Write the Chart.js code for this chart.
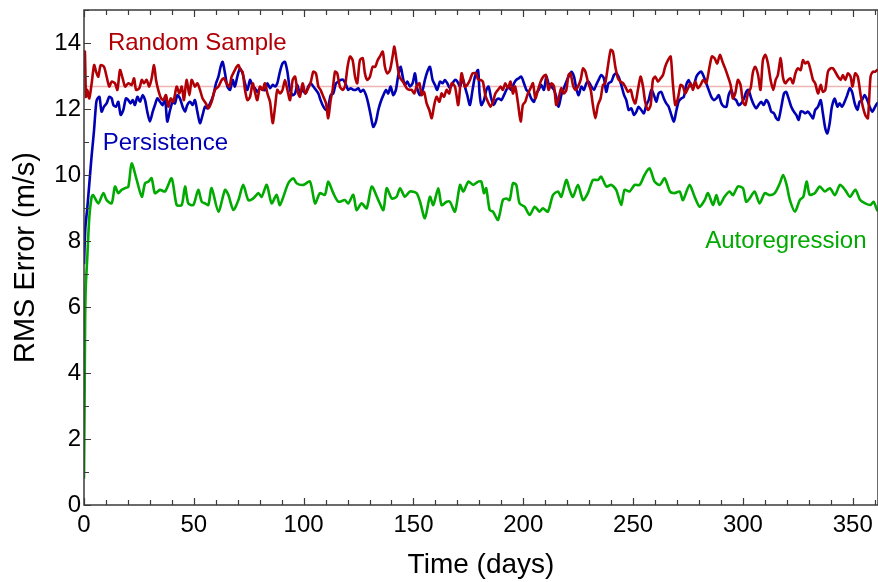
<!DOCTYPE html>
<html>
<head>
<meta charset="utf-8">
<script src="https://cdn.jsdelivr.net/npm/chart.js@4.4.1/dist/chart.umd.min.js"></script>
<style>
  html, body { margin: 0; padding: 0; background: #fff; }
  canvas { display: block; }
</style>
</head>
<body>
<canvas id="rms" width="878" height="582"></canvas>
<script>
// values (days, m/s)
const rsDays = [0,0.4,0.9,1.5,2.4,3.5,4.6,5.5,6.5,7.6,9.1,10.3,11.5,12.6,14.1,15.2,16.4,17.6,18.7,20.2,21.7,22.8,23.7,25.2,26.3,27.3,28.5,29.7,30.8,31.9,32.8,33.8,35.1,36.1,37.3,38.4,39.5,40.7,42.2,43.4,44.5,45.5,46.7,48,49,50.5,51.6,52.8,54,55.5,56.6,58.1,59.6,61.2,62.7,63.7,64.9,66.2,67.2,68.3,69.5,70.3,71.3,72.2,73.3,74.4,75.6,76.8,77.8,78.9,80.1,81.3,82.4,83.5,84.7,85.9,87,88,89.2,90.4,91.5,92.6,93.8,95,96.1,97.1,98.3,99.5,100.8,102.1,103.3,104.4,105.6,106.7,107.7,109,110.2,111.2,112.3,113.2,114.3,115.3,116.5,117.8,118.8,120,121.1,122.3,123.4,124.4,125.6,126.9,127.9,129,130.2,131.4,132.6,133.7,134.7,136,137,138.1,139.3,140.5,141.3,142.3,143.6,144.6,145.7,146.9,148.1,149.2,150.4,151.4,152.7,153.7,154.8,156,157.2,158.3,159.3,160.5,161.8,162.8,163.9,165.1,166.3,167.4,168.9,170.4,171.9,173.4,174.5,175.7,176.9,178.5,179.4,180.6,181.6,182.7,183.9,185.1,186.2,187.3,188.5,189.7,190.7,191.8,193,194.2,195.3,196.3,197.6,198.8,199.8,200.9,202.1,203.3,204.4,205.5,206.7,207.9,209.1,210.3,211.5,212.8,214,215,216.1,217.3,218.5,219.6,220.6,221.5,222.6,223.7,224.9,226.1,227.2,228.3,229.4,230.7,231.7,232.8,234,235.2,236.3,237.3,238.5,239.8,240.8,241.9,243.1,244.3,245.4,246.4,247.7,248.9,249.9,251,252.2,253.4,254.5,255.5,256.8,258,259,260.1,261.3,262.5,263.6,264.6,265.9,267.1,268.1,269.2,270.4,271.6,272.7,273.8,275,276.2,277.3,278.3,279.5,280.7,281.9,283.3,284.8,285.9,287.1,288.3,289.5,290.7,291.9,293.2,294.4,295.4,296.5,297.7,298.9,300,301.1,302.3,303.5,304.6,305.6,306.9,308,309.1,310.2,311.4,312.6,313.8,314.9,315.9,317.2,318.2,319.3,320.5,321.7,322.8,323.9,325,326.3,327.3,328.4,329.6,330.8,331.9,332.9,334.2,335.4,336.4,337.5,338.7,339.9,341,342,343.3,344.5,345.5,346.6,347.8,349,349.9,351.1,352.3,353.6,354.6,355.7,356.9,358.1,359.2,360.2,361.1,362];
const rsVals = [13.2,13.74,12.37,12.58,12.32,12.78,13.33,13.13,12.98,13.33,13.28,12.98,12.68,12.83,12.78,12.58,13.18,12.93,12.68,12.78,12.73,12.93,12.58,12.63,12.88,12.78,12.88,12.68,12.93,13.33,12.88,12.58,12.32,12.27,12.42,12.07,12.32,12.22,12.68,12.47,12.68,12.27,12.88,12.42,12.88,12.68,12.78,12.58,12.32,12.17,12.02,12.22,12.58,12.68,12.88,12.93,12.78,12.68,12.98,13.13,13.28,13.33,13.18,13.13,12.58,12.27,12.37,12.78,12.52,12.27,12.68,12.58,12.78,12.47,12.22,11.57,12.07,12.58,12.47,12.58,12.88,12.58,12.27,12.88,12.98,12.58,12.37,12.78,12.47,12.63,12.83,13.13,13.08,12.68,12.58,12.37,12.17,11.72,12.27,12.58,13.13,13.08,12.68,12.58,12.68,13.28,13.59,13.48,12.98,12.78,13.48,13.54,13.08,12.88,12.98,13.28,13.28,13.48,13.59,13.74,13.28,13.08,13.18,13.59,13.89,13.48,12.98,12.88,12.78,12.63,12.58,12.58,12.47,12.68,12.78,12.42,12.52,12.17,11.97,11.72,12.07,12.37,12.22,12.47,12.37,12.58,12.47,12.78,12.68,12.12,13.08,12.68,12.73,12.88,13.08,13.08,12.9,12.88,12.83,12.42,12.22,12.07,12.22,12.47,12.58,12.68,12.58,12.78,12.63,12.83,12.47,12.68,12.17,11.62,12.12,12.22,12.47,12.63,12.78,12.32,12.58,12.83,12.98,13.03,12.58,12.78,12.68,12.12,12.32,12.63,12.47,12.58,13.03,13.08,12.73,12.58,12.68,12.88,13.23,13.13,12.83,12.58,12.12,11.72,12.12,12.32,12.73,12.78,13.28,13.79,13.74,13.28,12.93,12.83,12.78,12.68,12.52,12.58,12.32,12.17,12.58,12.98,12.68,12.22,11.97,12.12,12.88,12.98,12.83,12.93,13.03,13.28,13.48,13.59,12.78,12.12,12.32,12.73,12.68,12.47,12.63,12.78,12.58,12.83,12.63,12.73,12.88,12.78,13.28,13.59,13.54,13.38,13.64,13.43,13.23,12.98,12.73,12.32,12.47,12.88,12.73,12.22,12.12,12.47,12.63,13.13,13.28,13.03,12.58,13.48,13.64,13.38,12.88,12.58,12.88,13.03,13.54,12.98,12.78,12.88,12.93,12.78,13.08,13.23,13.18,13.48,13.38,13.43,13.18,12.88,12.78,12.47,12.73,12.52,12.58,13.13,13.23,13.23,13.13,12.98,12.88,13.03,12.88,13.08,12.98,12.68,13.08,12.98,12.42,12.07,11.82,11.72,12.98,13.13,13.13,13.18,13.18];
const rsMean = 12.68;

const persDays = [0,0.6,1.5,2.5,3.5,4.5,5.3,5.8,7,8,9.1,10.3,11.5,12.6,13.4,14.6,15.6,16.7,17.9,19.1,20.2,21.2,22.2,23.2,24.3,25.5,26.7,27.8,28.8,30,31.3,32.3,33.4,34.6,35.8,36.9,37.9,39.2,40.4,41.4,42.5,43.7,44.9,46,47,48.3,49.5,50.5,51.6,52.8,54,55.1,56.1,57.4,58.9,60.1,61.2,62.2,63.1,64.2,65.3,66.5,67.7,68.7,69.8,71,72.2,73.3,74.4,75.6,76.8,77.8,78.9,80.1,81.3,82.4,83.5,84.7,85.9,87,88,89.2,90.4,91.5,92.6,93.8,95,96.1,97.1,98.3,99.5,100.8,102.1,103.3,104.4,105.6,106.7,107.7,109,110.2,111.2,112.3,113.5,114.7,115.8,116.8,118.1,119.3,120.3,121.4,122.6,123.8,124.9,125.9,127.2,128.4,129.4,130.5,131.7,132.9,134,135.1,136.3,137.5,138.5,139.6,140.8,142,143.1,144.2,145.1,146.1,147.2,148.4,149.6,150.7,151.7,153,154.2,155.2,156.3,157.5,158.7,159.8,160.8,162.1,163.3,164.3,165.4,166.6,167.8,168.9,170,171.2,172.4,173.4,174.5,175.7,176.9,178,179.4,180.1,180.9,182.1,183.2,184.2,185.4,186.6,187.7,188.8,190,191.2,192.3,193.3,194.5,195.8,196.8,197.9,199.1,200.3,201.4,202.4,203.6,204.9,205.9,207,208.2,209.4,210.5,211.5,212.8,214,215,216.1,217.3,218.5,219.6,220.6,221.9,223.1,224.1,225.2,226.4,227.6,228.7,229.7,231,232.2,233.2,234.3,235.5,236.7,237.8,238.8,240.1,241.3,242.3,243.4,244.6,245.9,246.9,248,249.2,250.4,251.5,252.5,253.7,254.9,256,257.1,258.3,259.5,260.6,261.6,262.8,264,265.1,266.2,267.4,268.6,269.6,270.7,271.9,273.1,274.2,275.3,276.5,277.7,278.8,279.8,281,282.2,283.3,284.4,285.6,286.8,287.9,289,290.2,291.4,292.5,293.5,294.7,295.9,296.9,298,299.2,300.5,301.5,302.5,303.8,305,306,307.1,308.3,309.5,310.6,311.7,312.9,314.1,315.2,316.2,317.5,318.7,319.7,320.8,322,323.2,324.3,325.4,326.3,327.3,328.4,329.6,330.8,331.9,332.9,334.2,335.4,336.4,337.5,338.4,339.5,340.5,341.8,343,344,345.1,346.3,347.5,348.6,349.7,350.9,352.1,353.1,354.2,355.4,356.6,357.7,358.9,360.2,361.1,362];
const persVals = [7.3,8.4,9,9.8,10.6,11.3,12,12.27,12.37,11.92,12.07,12.17,12.37,12.32,12.12,12.07,12.22,11.82,11.97,12.32,12.27,12.17,12.27,12.12,12.37,12.22,12.42,12.27,11.92,11.62,11.92,12.12,12.32,12.22,12.12,12.32,11.62,11.97,12.22,12.17,12.42,12.32,12.07,11.92,12.12,12.22,12.12,12.27,11.92,11.57,11.82,12.07,12.02,12.17,12.42,12.78,12.98,13.28,13.43,13.08,12.68,12.58,12.88,12.68,12.98,13.23,13.08,12.78,12.58,12.88,12.68,12.63,12.52,12.63,12.58,12.58,12.78,12.63,12.73,12.68,12.78,13.13,13.38,13.43,13.13,12.58,12.42,12.47,12.73,12.47,12.58,12.47,12.68,12.78,12.68,12.58,12.47,12.27,12.07,11.97,12.07,12.42,12.47,12.78,12.83,12.88,12.88,12.73,12.58,12.63,12.58,12.58,12.63,12.52,12.58,12.42,12.17,11.82,11.46,11.62,11.97,12.22,12.42,12.58,12.47,12.68,12.42,12.58,13.03,13.28,12.98,12.73,12.83,12.68,12.78,13.08,12.63,12.42,12.58,12.88,13.13,13.28,12.88,12.73,12.58,12.83,12.78,12.88,12.78,12.63,12.78,12.88,12.83,12.68,12.93,12.68,12.42,12.12,12.58,12.98,13.18,12.47,12.12,12.27,12.58,12.68,12.32,12.12,12.27,12.32,12.27,12.42,12.58,12.68,12.58,12.78,12.88,12.93,12.98,12.78,12.58,12.52,12.32,12.22,12.47,12.58,12.73,12.58,12.98,12.78,12.68,12.58,12.37,12.07,12.42,12.63,12.83,12.98,13.13,12.98,12.63,12.42,12.68,12.58,12.78,12.83,12.68,12.58,12.73,12.88,13.03,12.93,12.52,12.78,12.83,13.03,13.08,12.98,12.73,12.42,12.27,11.97,12.02,11.82,11.92,12.07,11.97,11.87,12.12,12.27,12.58,12.42,12.22,12.47,12.52,12.32,12.17,12.07,11.82,11.62,11.92,12.22,12.32,12.37,12.73,12.88,12.68,12.73,12.98,13.08,13.13,12.98,12.78,12.58,12.37,12.27,12.32,12.42,12.17,12.07,12.07,12.42,12.58,12.32,12.27,12.12,12.17,12.32,12.52,12.58,12.32,12.12,12.02,12.12,12.22,12.12,12.27,12.17,11.92,11.87,11.72,11.67,12.07,12.47,12.52,12.32,12.07,11.92,11.82,11.67,11.92,11.92,11.87,11.92,11.82,11.72,11.97,12.07,12.27,11.87,11.41,11.26,11.57,12.07,12.32,12.07,12.17,12.07,12.22,12.42,12.63,12.52,12.17,11.97,12.22,12.27,12.42,12.27,12.07,11.92,12.07,12.17,12.2];

const arDays = [0,0.3,0.5,0.8,1.5,2.4,3.5,4.2,6.5,8.8,10.3,12.6,14.1,15.6,17.1,18.7,20.2,21.7,24,26.3,27.8,29.3,30.8,32.3,34.6,36.9,39.9,42.2,44.5,46,47.5,49.8,52,53.6,55.1,56.6,58.1,61.2,64.2,65.7,68,70.3,72.5,74.8,77.1,79.4,80.9,83.2,85.4,87.7,89.2,93,95.3,96.8,99.8,102.9,105.2,107.4,109.7,111.2,113.5,115.8,118.8,120.3,122.6,124.1,126.4,128.7,131,134,136.3,137.8,140.1,142.3,143.9,146.1,148.4,151.4,153,155.2,157.5,159,161.3,162.8,165.1,166.6,168.9,171.2,172.7,175,177.2,179.5,180.9,182.1,183.1,184.7,186.2,188.5,190.7,192.3,193.8,195.3,196.8,198.3,200.6,202.9,205.2,207.4,208.9,211.2,213.5,215.8,217.3,219.6,221.1,222.6,224.9,227.2,229.4,231.7,234,235.5,237.8,240.1,242.3,244.6,246.1,248.4,250.7,253,255.2,257.5,259.8,262.1,264.4,266.8,268.9,271.2,272.7,275.7,278,280.3,282.6,284.1,286.4,287.9,289.4,291.6,293.9,295.5,297.7,300,301.5,303.1,305.3,307.6,309.9,312.2,314.5,316.8,318.3,319.9,321.4,323.7,325.9,327.5,329,330.4,332.7,335,337.3,339.6,341.9,344.2,346.5,348.7,351.2,353.4,355.7,358,359.5,361.1,362];
const arVals = [0.8,3.5,5.5,6.6,7.5,8.7,9.34,9.39,9.14,9.45,9.24,9.14,9.65,9.45,9.55,9.6,9.65,10.35,9.85,9.34,9.75,9.8,9.9,9.45,9.55,9.5,9.9,9.09,9.09,9.65,9.14,9.09,9.55,9.19,9.14,9.09,9.6,8.89,9.55,9.4,8.94,9.24,9.7,9.24,9.29,9.45,9.34,9.7,9.14,9.4,9.09,9.75,9.9,9.75,9.7,9.8,9.14,9.45,9.4,9.8,9.45,9.19,9.24,9.14,9.4,8.94,9.14,8.99,9.65,9.24,8.94,9.6,9.29,9.34,9.6,9.34,9.5,9.45,9.19,8.69,9.34,9.09,9.6,9.09,9.19,9.19,8.89,9.7,9.5,9.8,9.7,9.8,9.8,9.45,9.6,8.94,8.89,8.64,9.24,9.29,9.24,9.75,9.7,9.14,9.04,8.79,9.04,8.89,8.99,8.89,9.39,9.5,9.34,9.85,9.55,9.34,9.7,9.24,9.45,9.85,9.85,9.95,9.65,9.7,9.55,9.09,9.55,9.5,9.7,9.7,10,10.2,9.8,9.7,9.9,9.5,9.45,9.5,9.24,9.7,9.34,9.04,9.24,9.45,9.09,9.39,9.09,9.34,9.5,9.39,9.65,9.6,9.19,9.29,9.5,9.14,9.45,9.39,9.45,9.75,10,9.7,9.24,8.89,9.24,9.34,9.8,9.4,9.45,9.65,9.5,9.6,9.39,9.7,9.55,9.34,9.55,9.24,9.14,9.09,9.19,8.94,8.9];

const seriesNames = ['Random Sample', 'Persistence', 'Autoregression'];
const seriesColors = ['#b00006', '#0000b4', '#00aa00'];
const xTicks = [0, 50, 100, 150, 200, 250, 300, 350];
const yTicks = [0, 2, 4, 6, 8, 10, 12, 14];

const FONT = '"Liberation Sans", Arial, Helvetica, sans-serif';
const pts = (xs, ys) => xs.map((d, i) => ({ x: d, y: ys[i] }));

const frame = {
  id: 'frame',
  afterDraw(chart) {
    const { ctx, chartArea: a, scales: { x, y } } = chart;
    ctx.save();
    ctx.strokeStyle = '#3a3a3a';
    ctx.lineWidth = 1.5;
    ctx.strokeRect(a.left, a.top, a.right - a.left, a.bottom - a.top);
    ctx.beginPath();
    for (let d = 0; d <= x.max; d += 10) {
      const px = Math.round(x.getPixelForValue(d)) + 0.5;
      const len = d % 50 === 0 ? 7 : 5;
      ctx.moveTo(px, a.bottom); ctx.lineTo(px, a.bottom - len);
      ctx.moveTo(px, a.top); ctx.lineTo(px, a.top + len);
    }
    for (let v = 0; v <= y.max; v += 1) {
      const py = Math.round(y.getPixelForValue(v)) + 0.5;
      const len = v % 2 === 0 ? 7 : 5;
      ctx.moveTo(a.left, py); ctx.lineTo(a.left + len, py);
    }
    ctx.lineWidth = 1.2;
    ctx.stroke();

    // series names inside the plot, placed in data units
    const spots = [[10.9, 13.79], [8.5, 10.76], [282.8, 7.8]];
    ctx.font = '24px ' + FONT;
    ctx.textBaseline = 'alphabetic';
    seriesNames.forEach((name, i) => {
      ctx.fillStyle = seriesColors[i];
      ctx.fillText(name, x.getPixelForValue(spots[i][0]), y.getPixelForValue(spots[i][1]));
    });
    ctx.restore();
  }
};

new Chart(document.getElementById('rms'), {
  type: 'line',
  data: {
    datasets: [
      { label: seriesNames[0], data: pts(rsDays, rsVals), borderColor: seriesColors[0] },
      { label: seriesNames[1], data: pts(persDays, persVals), borderColor: seriesColors[1] },
      { label: seriesNames[2], data: pts(arDays, arVals), borderColor: seriesColors[2] },
      { label: 'mean', data: [{ x: 0, y: rsMean }, { x: 362, y: rsMean }],
        borderColor: 'rgba(225,120,120,0.55)', borderWidth: 1.5, tension: 0 }
    ]
  },
  options: {
    responsive: false,
    animation: false,
    layout: { padding: { top: 10, right: 0, left: 0, bottom: 0 } },
    elements: {
      point: { radius: 0 },
      line: { borderWidth: 2.6, tension: 0.25, borderJoinStyle: 'round' }
    },
    plugins: { legend: { display: false }, tooltip: { enabled: false } },
    scales: {
      x: {
        type: 'linear', min: 0, max: 361.5,
        grid: { display: false, drawTicks: false },
        border: { display: false },
        afterBuildTicks: (s) => { s.ticks = xTicks.map((v) => ({ value: v })); },
        afterFit: (s) => { s.height = 77; s.paddingLeft = 0; s.paddingRight = 0; },
        ticks: { color: '#000', font: { family: FONT, size: 24 }, padding: 6, maxRotation: 0 },
        title: { display: true, text: 'Time (days)', color: '#000',
          font: { family: FONT, size: 28 }, padding: { top: 0, bottom: 0 } }
      },
      y: {
        min: 0, max: 15,
        grid: { display: false, drawTicks: false },
        border: { display: false },
        afterBuildTicks: (s) => { s.ticks = yTicks.map((v) => ({ value: v })); },
        afterFit: (s) => { s.width = 84; s.paddingTop = 0; s.paddingBottom = 0; },
        ticks: { color: '#000', font: { family: FONT, size: 24 }, padding: 3 },
        title: { display: true, text: 'RMS Error (m/s)', color: '#000',
          font: { family: FONT, size: 29 }, padding: { top: 9, bottom: 0 } }
      }
    }
  },
  plugins: [frame]
});
</script>
</body>
</html>
